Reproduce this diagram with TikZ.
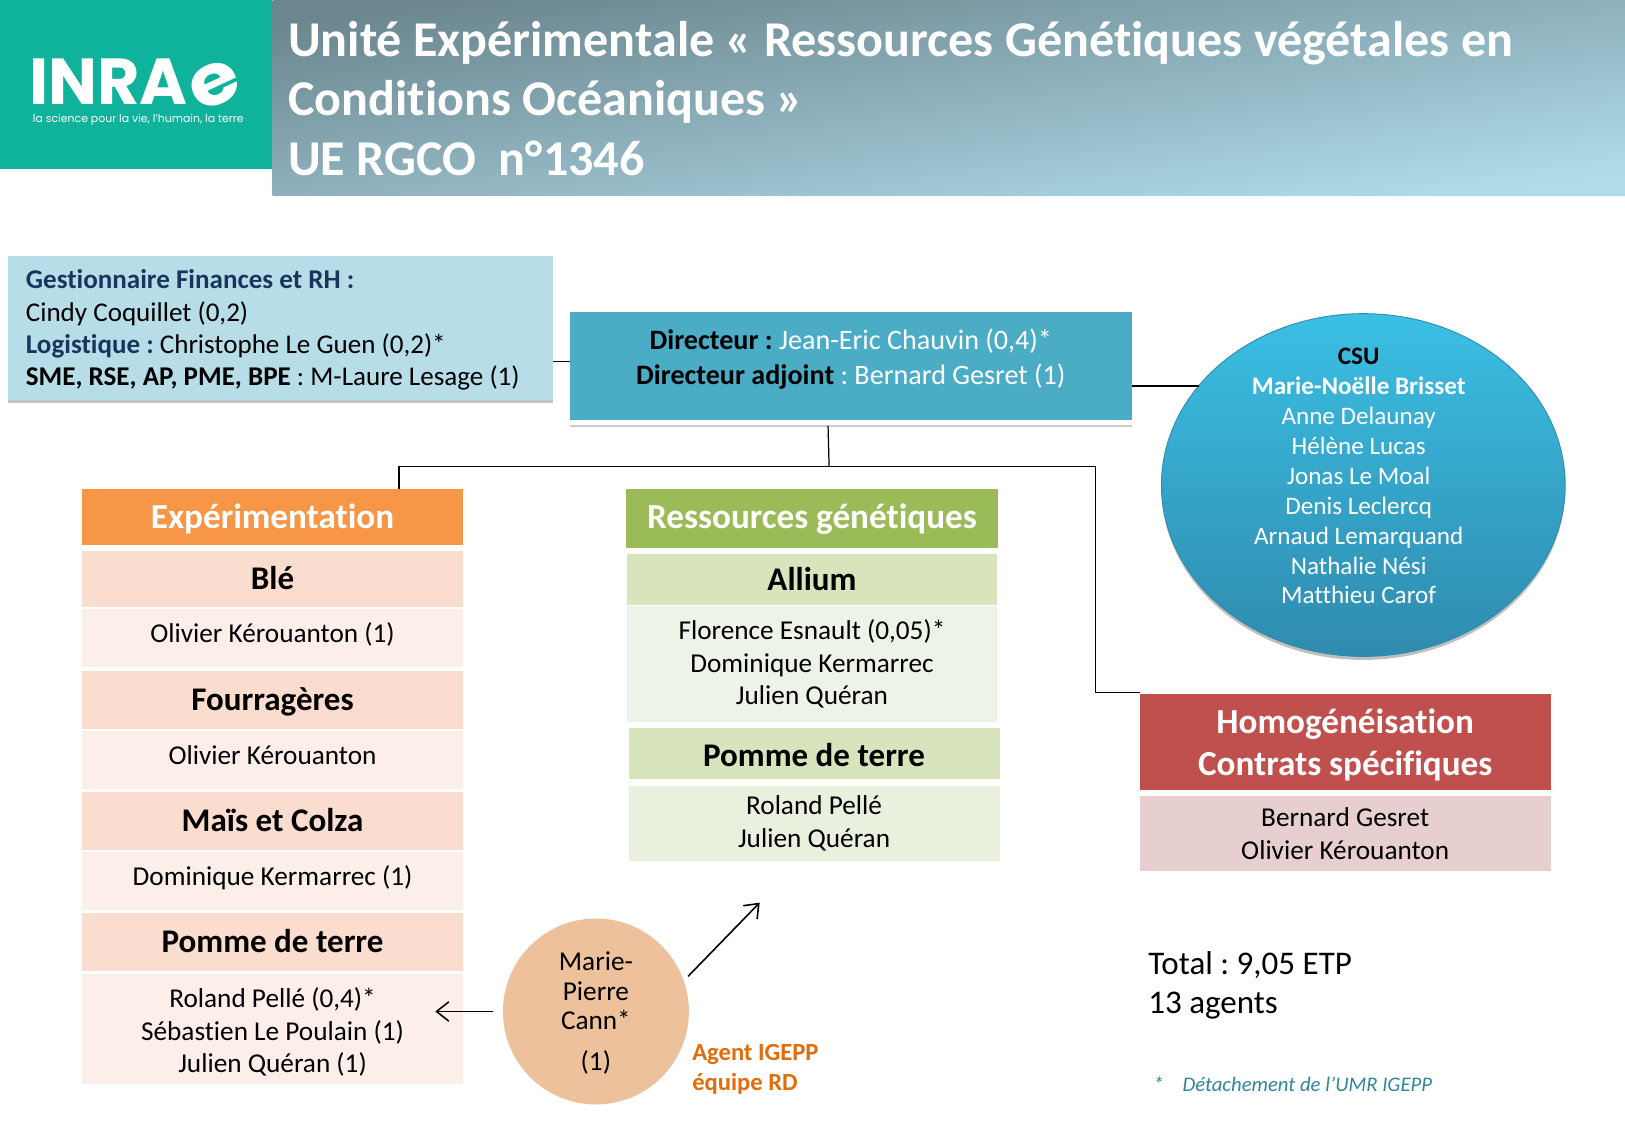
\documentclass[tikz,border=0pt]{standalone}
\usepackage{fontspec}
\setmainfont{Carlito}[Ligatures=CommonOff]
\newfontfamily\logofont{Poppins}
\usepackage{tikz}
\usetikzlibrary{arrows.meta}
\usetikzlibrary{positioning}
\usetikzlibrary{shapes.geometric}
\usetikzlibrary{shadows}
\definecolor{logoteal}{HTML}{0FB39B}
\definecolor{banddark}{HTML}{6B868F}
\definecolor{bandlight}{HTML}{B0DCEA}
\definecolor{gestblue}{HTML}{B7DDE8}
\definecolor{gestink}{HTML}{17365D}
\definecolor{dirblue}{HTML}{4BACC6}
\definecolor{csutop}{HTML}{3BBFE4}
\definecolor{csumid}{HTML}{36AFD6}
\definecolor{csubottom}{HTML}{2F8BAE}
\definecolor{exphead}{HTML}{F79646}
\definecolor{exprow}{HTML}{FBDDD0}
\definecolor{expname}{HTML}{FCEFEA}
\definecolor{reshead}{HTML}{9BBB59}
\definecolor{resrow}{HTML}{D8E4BC}
\definecolor{resnamea}{HTML}{EEF3E8}
\definecolor{resnameb}{HTML}{EAF0DE}
\definecolor{homhead}{HTML}{C0504D}
\definecolor{homname}{HTML}{E7CFD0}
\definecolor{igepp}{HTML}{E36C0A}
\definecolor{igeppfill}{HTML}{EEC19D}
\definecolor{notecol}{HTML}{31859C}
\newcommand{\toppad}[1]{\rule{0pt}{#1}}
\pgfdeclareverticalshading{bandfade}{100bp}{color(0bp)=(bandlight); color(25bp)=(bandlight); color(75bp)=(banddark); color(100bp)=(banddark)}
\begin{document}
\frenchspacing
\begin{tikzpicture}[x=0.020727cm,y=-0.020727cm,>={Straight Barb[length=7pt,width=11pt]},
    box/.style={inner sep=0pt,outer sep=0pt,align=center,text=black},
    head/.style={box,minimum width=216.8pt,text=white,text height=14pt,text depth=3pt,font=\fontsize{20}{24}\selectfont\bfseries},
    rowhead/.style={box,minimum width=216.8pt,minimum height=32.9pt,fill=exprow,text height=13pt,text depth=1pt,font=\fontsize{18.8}{22}\selectfont\bfseries},
    rowname/.style={box,minimum width=216.8pt,minimum height=32.9pt,fill=expname,font=\fontsize{15.5}{18.5}\selectfont},
    rowone/.style={rowname,text height=10.6pt,text depth=5pt},
    greenhead/.style={rowhead,minimum width=211pt,minimum height=29pt,fill=resrow},
    greenname/.style={rowname,minimum width=211pt},
    line/.style={black,line width=0.7pt},
    arrowline/.style={black,line width=0.9pt}]
  \useasboundingbox (0,0) rectangle (1568,1085.6);

  \shade[shading=bandfade,shading angle=8.24] (263,0) rectangle (1568,189);
  \node[box,minimum width=154.5pt,minimum height=95.8pt,fill=logoteal] (logo) at (131.5,81.5) {};
  \node[box,text=white,text depth=0pt,font=\logofont\fontsize{37}{37}\selectfont] (logoname) at (133,79) {\textbf{INRA}\kern-2.5pt\smash{\rotatebox[origin=c]{25}{\scalebox{1.25}[1.1]{\textbf{e}}}}};
  \node[box,text=white,font=\logofont\fontsize{6.2}{7}\selectfont] (logotag) at (133.5,116) {la science pour la vie, l’humain, la terre};
  \node[box,anchor=west,align=left,text=white,font=\fontsize{28.5}{34}\selectfont\bfseries] (title) at (278,95)
    {Unité Expérimentale « Ressources Génétiques végétales en\\Conditions Océaniques »\\UE RGCO\ \ n°1346};

  \node[box,anchor=north west,minimum width=309.7pt,minimum height=81.7pt,fill=gestblue,
    drop shadow={shadow xshift=0pt,shadow yshift=-2pt,opacity=.45}] (gest) at (8,247) {};
  \node[box,anchor=west,align=left,font=\fontsize{15.4}{18.4}\selectfont] (gesttext) at (25,318.5)
    {\textcolor{gestink}{\textbf{Gestionnaire Finances et RH :}}\\Cindy Coquillet (0,2)\\
     \textcolor{gestink}{\textbf{Logistique :}} Christophe Le Guen (0,2)*\\\textbf{SME, RSE, AP, PME, BPE} : M-Laure Lesage (1)};

  \node[box,anchor=north west,minimum width=319.7pt,minimum height=61.7pt,fill=dirblue] (dir) at (550,301) {};
  \fill[white,drop shadow={shadow xshift=0pt,shadow yshift=-1.2pt,opacity=.4}] (dir.south west) rectangle ([yshift=-2.4pt]dir.south east);
  \node[box,font=\fontsize{16}{20}\selectfont] (dirtext) at (821,346.5)
    {\textbf{Directeur :} \textcolor{white}{Jean-Eric Chauvin (0,4)*}\\\textbf{Directeur adjoint} \textcolor{white}{: Bernard Gesret (1)}};

  \node[ellipse,inner sep=0pt,outer sep=0pt,minimum width=229.7pt,minimum height=195pt,draw=csubottom,line width=0.5pt,
    top color=csutop,middle color=csumid,bottom color=csubottom,
    drop shadow={shadow xshift=0pt,shadow yshift=-2pt,opacity=.5}] (csu) at (1315.5,468) {};
  \node[box,text=white,font=\fontsize{14.3}{17}\selectfont] (csutext) at (1311,459.5)
    {\textcolor{black}{\textbf{CSU}}\\\textbf{Marie-Noëlle Brisset}\\Anne Delaunay\\Hélène Lucas\\Jonas Le Moal\\Denis Leclercq\\Arnaud Lemarquand\\Nathalie Nési\\Matthieu Carof};

  \node[head,minimum height=31.7pt,fill=exphead,text height=15pt,text depth=1.6pt] (exp_0) at (263,499) {Expérimentation};
  \node[rowhead,minimum height=31.7pt] (exp_1) [below=3.5pt of exp_0] {Blé};
  \node[rowone] (exp_2) [below=1.2pt of exp_1] {Olivier Kérouanton (1)};
  \node[rowhead] (exp_3) [below=2.4pt of exp_2] {Fourragères};
  \node[rowone] (exp_4) [below=1.2pt of exp_3] {Olivier Kérouanton};
  \node[rowhead] (exp_5) [below=1.8pt of exp_4] {Maïs et Colza};
  \node[rowone] (exp_6) [below=1.2pt of exp_5] {Dominique Kermarrec (1)};
  \node[rowhead] (exp_7) [below=1.8pt of exp_6] {Pomme de terre};
  \node[rowname,minimum height=62.6pt] (exp_8) [below=1.8pt of exp_7] {\toppad{15pt}Roland Pellé (0,4)*\\Sébastien Le Poulain (1)\\Julien Quéran (1)};

  \node[head,minimum width=211.2pt,minimum height=33.5pt,fill=reshead] (res_0) at (783.5,500.5) {Ressources génétiques};
  \node[greenhead] (res_1) [below=3.5pt of res_0] {Allium};
  \node[greenname,minimum height=65.8pt,fill=resnamea] (res_2) [below=0.6pt of res_1] {Florence Esnault (0,05)*\\Dominique Kermarrec\\Julien Quéran};
  \node[greenhead,text height=14pt,text depth=0pt] (res_3) at (785.5,727.5) {Pomme de terre};
  \node[greenname,minimum height=43pt,fill=resnameb] (res_4) [below=3.5pt of res_3] {Roland Pellé\\Julien Quéran};

  \node[box,minimum width=233.9pt,minimum height=54.6pt,text=white,fill=homhead,font=\fontsize{20}{24.1}\selectfont\bfseries] (hom_0) at (1298,715.5) {\toppad{18pt}Homogénéisation\\Contrats spécifiques};
  \node[rowname,minimum width=233.9pt,minimum height=43pt,fill=homname] (hom_1) [below=3.5pt of hom_0] {Bernard Gesret\\Olivier Kérouanton};

  \node[circle,inner sep=0pt,outer sep=0pt,minimum size=105.8pt,fill=igeppfill] (cann) at (575,976) {};
  \node[box,font=\fontsize{15.5}{17}\selectfont] (canntext) at (575,956) {Marie-\\Pierre\\Cann*};
  \node[box,font=\fontsize{15.5}{17}\selectfont] (cannfte) at (575,1025) {(1)};
  \node[box,anchor=west,align=left,text=igepp,font=\fontsize{14}{17}\selectfont\bfseries] (agent) at (668,1032) {Agent IGEPP\\équipe RD};
  \node[box,anchor=west,align=left,font=\fontsize{18.8}{22.4}\selectfont] (total) at (1108,951) {Total : 9,05 ETP\\13 agents};
  \node[box,anchor=west,text=notecol,font=\fontsize{11.8}{14}\selectfont\itshape] (note) at (1113,1046) {*\ \ \ \ Détachement de l’UMR IGEPP};

  \coordinate (arrow_a) at (420,976);
  \coordinate (arrow_b) at (733,871);
  \coordinate (arrow_c) at (664,942);

  \draw[line] (gest.east |- 0,349) -- (dir.west |- 0,349);
  \draw[line] (dir.east |- csu.149) -- (csu.149);
  \draw[line] (799,411) -- (800,450);
  \draw[line] (exp_0.north -| 385,0) |- (1057,450) |- (hom_0.west |- 0,668);

  \draw[->,arrowline,shorten <=5.9pt] (cann.west) -- (arrow_a);
  \draw[->,arrowline] (arrow_c) -- (arrow_b);
\end{tikzpicture}
\end{document}
